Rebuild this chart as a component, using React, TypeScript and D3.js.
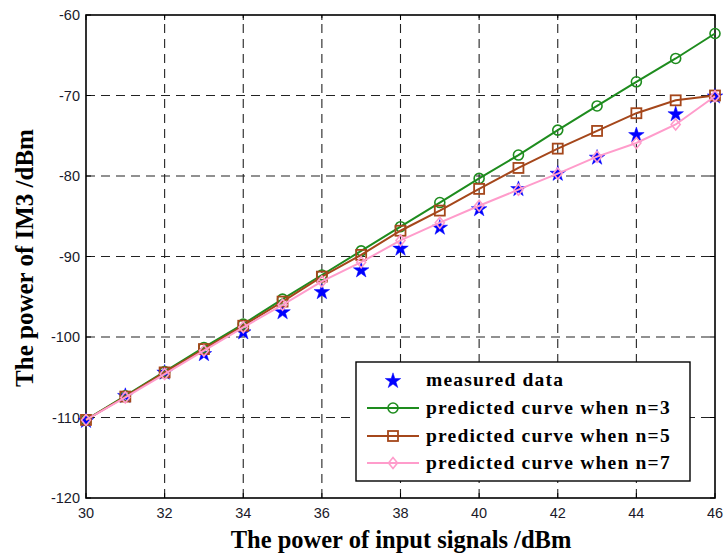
import React from "react";
import * as d3 from "d3";

const inputPower = [30, 31, 32, 33, 34, 35, 36, 37, 38, 39, 40, 41, 42, 43, 44, 45, 46];
const measured = [-110.3, -107.2, -104.3, -102.0, -99.3, -96.8, -94.3, -91.6, -88.9, -86.3, -84.0, -81.5, -79.6, -77.6, -74.8, -72.2, -70.0];
const predN3 = [-110.3, -107.3, -104.3, -101.3, -98.4, -95.3, -92.3, -89.3, -86.3, -83.3, -80.3, -77.4, -74.3, -71.3, -68.3, -65.4, -62.3];
const predN5 = [-110.3, -107.4, -104.4, -101.5, -98.6, -95.6, -92.5, -89.8, -86.8, -84.3, -81.6, -79.0, -76.6, -74.4, -72.2, -70.6, -70.0];
const predN7 = [-110.3, -107.5, -104.6, -101.7, -98.8, -96.0, -93.1, -90.7, -88.0, -85.8, -83.7, -81.7, -79.7, -77.6, -75.9, -73.6, -70.1];
const xTicks = [30, 32, 34, 36, 38, 40, 42, 44, 46];
const yTicks = [-120, -110, -100, -90, -80, -70, -60];
const legendLabels = [
  "measured data",
  "predicted curve when n=3",
  "predicted curve when n=5",
  "predicted curve when n=7",
];

const W = 725, H = 556;
const L = 86, R = 715, T = 15, B = 498;

const BLUE = "#0000ff";
const GREEN = "#1e8c1e";
const BROWN = "#a5471b";
const PINK = "#ff9ccb";

const starPath = d3.symbol(d3.symbolStar, 75)() as string;

function Circle({ x, y, c }: { x: number; y: number; c: string }) {
  return <circle cx={x} cy={y} r={5} fill="none" stroke={c} strokeWidth={1.6} />;
}
function Square({ x, y, c }: { x: number; y: number; c: string }) {
  return <rect x={x - 5} y={y - 5} width={10} height={10} fill="none" stroke={c} strokeWidth={1.8} />;
}
function Diamond({ x, y, c }: { x: number; y: number; c: string }) {
  return (
    <path d={`M${x},${y - 5.5}L${x + 4.5},${y}L${x},${y + 5.5}L${x - 4.5},${y}Z`} fill="none" stroke={c} strokeWidth={1.6} />
  );
}
function Star({ x, y }: { x: number; y: number }) {
  return <path d={starPath} transform={`translate(${x},${y + 1})`} fill={BLUE} stroke={BLUE} strokeWidth={0.5} />;
}

export default function App() {
  const x = d3.scaleLinear().domain([30, 46]).range([L, R]);
  const y = d3.scaleLinear().domain([-120, -60]).range([B, T]);
  const line = d3
    .line<number>()
    .x((_, i) => x(inputPower[i]))
    .y((d) => y(d));

  const series = [
    { data: predN3, color: GREEN, M: Circle },
    { data: predN5, color: BROWN, M: Square },
    { data: predN7, color: PINK, M: Diamond },
  ];

  const legX = 356, legY = 362, legW = 334, legH = 119;
  const rowY = [380, 408, 436, 463];
  const serif = "Liberation Serif, Times New Roman, serif";

  return (
    <svg width={W} height={H} style={{ position: "absolute", left: 0, top: 0, background: "#fff" }}>
      <rect x={0} y={0} width={W} height={H} fill="#fff" />
      {/* grid */}
      <g stroke="#222" strokeWidth={1.1} strokeDasharray="9,6">
        {xTicks.slice(1, -1).map((t) => (
          <line key={"gx" + t} x1={x(t)} x2={x(t)} y1={B} y2={T} />
        ))}
        {yTicks.slice(1, -1).map((t) => (
          <line key={"gy" + t} x1={L} x2={R} y1={y(t)} y2={y(t)} />
        ))}
      </g>
      {/* ticks inward */}
      <g stroke="#000" strokeWidth={1}>
        {xTicks.map((t) => (
          <g key={"tx" + t}>
            <line x1={x(t)} x2={x(t)} y1={B} y2={B - 5} />
            <line x1={x(t)} x2={x(t)} y1={T} y2={T + 5} />
          </g>
        ))}
        {yTicks.map((t) => (
          <g key={"ty" + t}>
            <line x1={L} x2={L + 5} y1={y(t)} y2={y(t)} />
            <line x1={R} x2={R - 5} y1={y(t)} y2={y(t)} />
          </g>
        ))}
      </g>
      {/* frame */}
      <rect x={L} y={T} width={R - L} height={B - T} fill="none" stroke="#000" strokeWidth={1.6} />
      {/* tick labels */}
      <g fontFamily="Liberation Sans, Arial, sans-serif" fontSize={14.5} fill="#1a1a2a">
        {xTicks.map((t) => (
          <text key={"lx" + t} x={x(t)} y={B + 20} textAnchor="middle">
            {t}
          </text>
        ))}
        {yTicks.map((t) => (
          <text key={"ly" + t} x={L - 6} y={y(t) + 5} textAnchor="end">
            {t}
          </text>
        ))}
      </g>
      {/* axis titles */}
      <text x={401} y={548} textAnchor="middle" fontFamily={serif} fontWeight="bold" fontSize={24.5} fill="#000">
        The power of input signals /dBm
      </text>
      <text
        transform={`translate(33,258) rotate(-90)`}
        textAnchor="middle"
        fontFamily={serif}
        fontWeight="bold"
        fontSize={25}
        fill="#000"
      >
        The power of IM3 /dBm
      </text>
      {/* measured stars */}
      <g>
        {measured.map((v, i) => (
          <Star key={"s" + i} x={x(inputPower[i])} y={y(v)} />
        ))}
      </g>
      {/* predicted series */}
      {series.map((s, si) => (
        <g key={"ser" + si}>
          <path d={line(s.data) as string} fill="none" stroke={s.color} strokeWidth={2} />
          {s.data.map((v, i) => (
            <s.M key={i} x={x(inputPower[i])} y={y(v)} c={s.color} />
          ))}
        </g>
      ))}
      {/* legend */}
      <g>
        <rect x={legX} y={legY} width={legW} height={legH} fill="#fff" stroke="#000" strokeWidth={1.4} />
        <Star x={393} y={rowY[0]} />
        {series.map((s, si) => (
          <g key={"lg" + si}>
            <line x1={367} x2={419} y1={rowY[si + 1]} y2={rowY[si + 1]} stroke={s.color} strokeWidth={2} />
            <s.M x={393} y={rowY[si + 1]} c={s.color} />
          </g>
        ))}
        {legendLabels.map((lab, i) => (
          <text
            key={"lt" + i}
            x={426}
            y={rowY[i] + 6}
            fontFamily={serif}
            fontWeight="bold"
            fontSize={19.5}
            letterSpacing={1.2}
            fill="#000"
          >
            {lab}
          </text>
        ))}
      </g>
    </svg>
  );
}
